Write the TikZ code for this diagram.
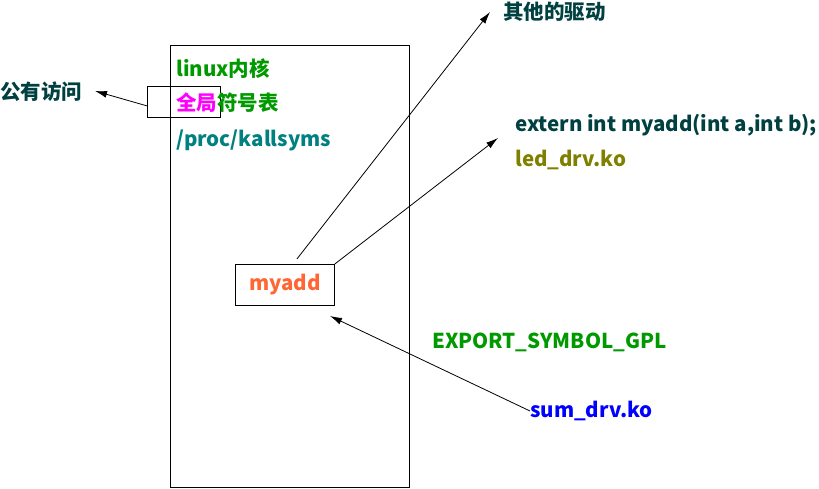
\documentclass[tikz,border=0pt]{standalone}
\usepackage{fontspec}
\setmainfont{Noto Sans CJK SC}
\usetikzlibrary{arrows.meta}
\definecolor{kgreen}{RGB}{0,153,0}
\definecolor{kmagenta}{RGB}{255,0,255}
\definecolor{kteal}{RGB}{0,128,128}
\definecolor{kdark}{RGB}{0,64,64}
\definecolor{korange}{RGB}{255,102,51}
\definecolor{kolive}{RGB}{128,128,0}
\definecolor{kblue}{RGB}{0,0,255}

\begin{document}
\begin{tikzpicture}[x=1pt,y=-1pt,
    txt/.style={inner sep=0pt,anchor=west,font=\fontsize{20.5}{22}\selectfont\bfseries},
    frame/.style={draw,line width=0.8pt,anchor=north west},
    link/.style={draw,line width=0.8pt,-{Latex[length=12pt,width=7pt]}}]
    \useasboundingbox (0,0) rectangle (819,489);
    % kernel and its symbol table
    \node [frame,minimum width=239pt,minimum height=442pt] (kernel) at (170,45) {};
    \node [frame,minimum width=73pt,minimum height=31pt] (symtab) at (147,86) {};
    \node [txt,text=kgreen] (linux) at (176,69) {linux内核};
    \node [txt] (global) at (176,103) {\textcolor{kmagenta}{全局}\textcolor{kgreen}{符号表}};
    \node [txt,text=kteal] (kallsyms) at (176,140) {/proc/kallsyms};
    \node [txt,text=kdark] (public) at (0,92) {公有访问};
    \node [frame,txt,anchor=north west,inner sep=0pt,minimum width=99pt,minimum height=41pt,text=korange] (myadd) at (235,264) {myadd};
    % drivers
    \node [txt,text=kdark] (other) at (503,12) {其他的驱动};
    \node [txt,text=kdark] (extern) at (515,125) {extern int myadd(int a,int b);};
    \node [txt,text=kolive] (led) at (515,160) {led\_drv.ko};
    \node [txt,text=kgreen] (export) at (432,342) {EXPORT\_SYMBOL\_GPL};
    \node [txt,text=kblue] (sum) at (530,411) {sum\_drv.ko};
    \coordinate (pubtip) at (95,91);
    \coordinate (othertip) at (490,12);
    \coordinate (externtip) at (498,138);
    \coordinate (sumtip) at (330,316);
    \draw [link] ([yshift=-4pt]symtab.west) -- (pubtip);
    \draw [link] ([shift={(12,-5)}]myadd.north) -- (othertip);
    \draw [link] (myadd.north east) -- (externtip);
    \draw [link] (sum.west) -- (sumtip);
\end{tikzpicture}
\end{document}
